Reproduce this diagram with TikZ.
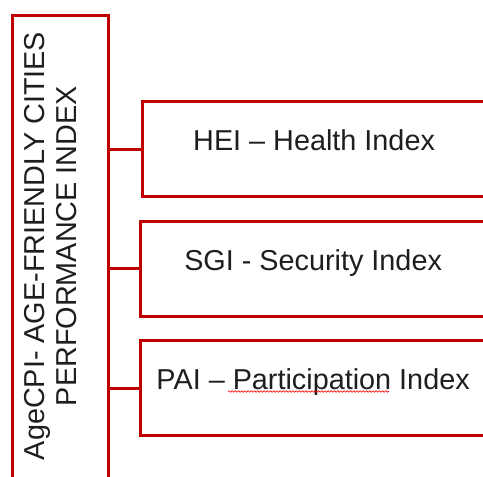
\documentclass[tikz,border=0pt]{standalone}
\usepackage{fontspec}
\setmainfont{Liberation Sans}
\usetikzlibrary{decorations.pathmorphing}
\definecolor{boxred}{HTML}{C00000}
\definecolor{ink}{HTML}{1E1E1E}
\begin{document}
\begin{tikzpicture}[x=1pt,y=-1pt,
  frame/.style={draw=boxred,line width=3.2pt},
  labelfont/.style={font=\fontsize{28.8}{32}\selectfont,text=ink},
  indexbox/.style={frame,rectangle,labelfont,minimum width=345pt,
    inner xsep=0pt,inner ysep=28pt,text height=21pt,text depth=18pt,
    anchor=north west},
  link/.style={draw=boxred,line width=3.2pt},
  squiggle/.style={draw=red,line width=0.6pt,decorate,
    decoration={snake,amplitude=0.8pt,segment length=3.2pt}}]
\useasboundingbox (0,0) rectangle (483,477);
\clip (0,0) rectangle (483,477);

% main index frame (runs past the lower edge)
\node[frame,rectangle,minimum width=96pt,minimum height=480pt,inner sep=0pt,
  anchor=north west] (agebox) at (10.5,13.5) {};
\node[labelfont,rotate=90,align=center,inner sep=0pt] (agetitle) at (51,246)
  {AgeCPI- AGE-FRIENDLY CITIES\\PERFORMANCE INDEX};

% sub-indices
\node[indexbox,minimum width=343pt] (hei) at (141,100) {HEI – Health Index};
\node[indexbox] (sgi) at (139,219.5) {SGI - Security Index};
\node[indexbox] (pai) at (139,339) {PAI – Participation Index};

% connectors
\draw[link] (agebox.east |- hei.west) -- (hei.west);
\draw[link] (agebox.east |- sgi.west) -- (sgi.west);
\draw[link] (agebox.east |- pai.west) -- (pai.west);

% spelling mark under "Participation"
\draw[squiggle] (228,391.5) -- (389,391.5);
\end{tikzpicture}
\end{document}
